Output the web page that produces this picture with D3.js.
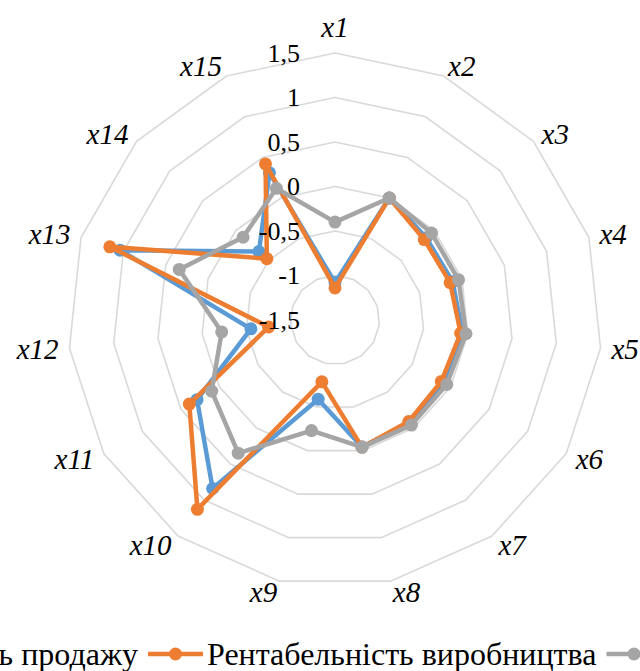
<!DOCTYPE html>
<html lang="uk">
<head>
<meta charset="UTF-8">
<title>Радарна діаграма</title>
<script src="https://cdnjs.cloudflare.com/ajax/libs/d3/7.8.5/d3.min.js"></script>
<style>
  html, body { margin: 0; padding: 0; background: #fff; }
  svg { display: block; font-family: "Liberation Serif", "DejaVu Serif", "Times New Roman", serif; }
  svg text { font-family: "Liberation Serif", "DejaVu Serif", "Times New Roman", serif; }
</style>
</head>
<body>
<div id="chart"></div>
<script>
// axes and ticks
const axes = ["x1","x2","x3","x4","x5","x6","x7","x8","x9","x10","x11","x12","x13","x14","x15"];
const ticks = [-1.5, -1, -0.5, 0, 0.5, 1, 1.5];

// series values
const salesProfit = [-1.08, 0.0, -0.12, -0.11, -0.06, -0.09, -0.07, -0.04, -0.59, 0.84, 0.29, -0.55, 1.04, -0.35, 0.31];
const productionProfit = [-1.14, 0.0, -0.15, -0.14, -0.08, -0.12, -0.09, -0.04, -0.79, 1.13, 0.39, -0.75, 1.16, -0.47, 0.42];
const thirdSeries = [-0.40, 0.0, -0.04, -0.04, -0.02, -0.05, -0.04, -0.04, -0.23, 0.35, 0.10, -0.22, 0.34, -0.11, 0.12];

const seriesNames = ["Рентабельність продажу", "Рентабельність виробництва", "Рентабельність капіталу"];
const seriesColors = ["#5b9bd5", "#ed7d31", "#a5a5a5"];
const seriesData = [salesProfit, productionProfit, thirdSeries];

const width = 640, height = 671;
const cx = 335, cy = 320, R = 267;

const svg = d3.select("#chart").append("svg")
  .attr("width", width).attr("height", height);

const r = d3.scaleLinear().domain([ticks[0], ticks[ticks.length - 1]]).range([0, R]);
const angle = d3.scalePoint().domain(axes.concat(["_end"])).range([0, 2 * Math.PI]);

const loc = d3.formatLocale({ decimal: ",", thousands: " ", grouping: [3], currency: ["", ""], minus: "-" });
const fmt = loc.format("");

const g = svg.append("g").attr("transform", `translate(${cx},${cy})`);

// grid rings (pentadecagons)
const ring = d3.lineRadial().angle(d => angle(d.a)).radius(d => r(d.v)).curve(d3.curveLinearClosed);
g.append("g").selectAll("path")
  .data(ticks.slice(1))
  .join("path")
  .attr("d", v => ring(axes.map(a => ({ a, v }))))
  .attr("fill", "none")
  .attr("stroke", "#d9d9d9")
  .attr("stroke-width", 1.6);

// series
const line = d3.lineRadial().angle((d, i) => angle(axes[i])).radius(d => r(d)).curve(d3.curveLinearClosed);
seriesData.forEach((vals, si) => {
  const sg = g.append("g");
  sg.append("path")
    .attr("d", line(vals))
    .attr("fill", "none")
    .attr("stroke", seriesColors[si])
    .attr("stroke-width", 4.5)
    .attr("stroke-linejoin", "round");
  sg.selectAll("circle")
    .data(vals)
    .join("circle")
    .attr("cx", (d, i) => r(d) * Math.sin(angle(axes[i])))
    .attr("cy", (d, i) => -r(d) * Math.cos(angle(axes[i])))
    .attr("r", 6.5)
    .attr("fill", seriesColors[si]);
});

// tick labels along x1 axis
g.append("g").selectAll("text")
  .data(ticks)
  .join("text")
  .attr("x", -35)
  .attr("y", v => -r(v))
  .attr("text-anchor", "end")
  .attr("dominant-baseline", "central")
  .attr("font-size", 26)
  .text(v => fmt(v));

// category labels
const labR = R + 11;
g.append("g").selectAll("text")
  .data(axes)
  .join("text")
  .each(function (a) {
    const t = angle(a), s = Math.sin(t), c = Math.cos(t);
    const top = Math.abs(s) < 0.01;
    d3.select(this)
      .attr("x", labR * s)
      .attr("y", -labR * c - (top ? 15 * c : 0))
      .attr("text-anchor", top ? "middle" : (s > 0 ? "start" : "end"));
  })
  .attr("dominant-baseline", "central")
  .attr("font-size", 29)
  .attr("font-style", "italic")
  .text(a => a);

// legend
const legY = 654, lineW = 55, legFont = 32;
const leg = svg.append("g");
const items = leg.selectAll("g").data(seriesNames).join("g");
items.append("line")
  .attr("x1", 0).attr("x2", lineW)
  .attr("y1", legY).attr("y2", legY)
  .attr("stroke", (d, i) => seriesColors[i])
  .attr("stroke-width", 4.5);
items.append("circle")
  .attr("cx", lineW / 2).attr("cy", legY).attr("r", 6.5)
  .attr("fill", (d, i) => seriesColors[i]);
items.append("text")
  .attr("x", lineW + 4)
  .attr("y", legY)
  .attr("dominant-baseline", "central")
  .attr("font-size", legFont)
  .text(d => d);

const widths = [];
items.select("text").each(function () { widths.push(lineW + 4 + this.getComputedTextLength() + 10); });
let xPos = 148 - widths[0];
items.attr("transform", (d, i) => {
  const x = xPos;
  xPos += widths[i];
  return `translate(${x},0)`;
});
</script>
</body>
</html>
